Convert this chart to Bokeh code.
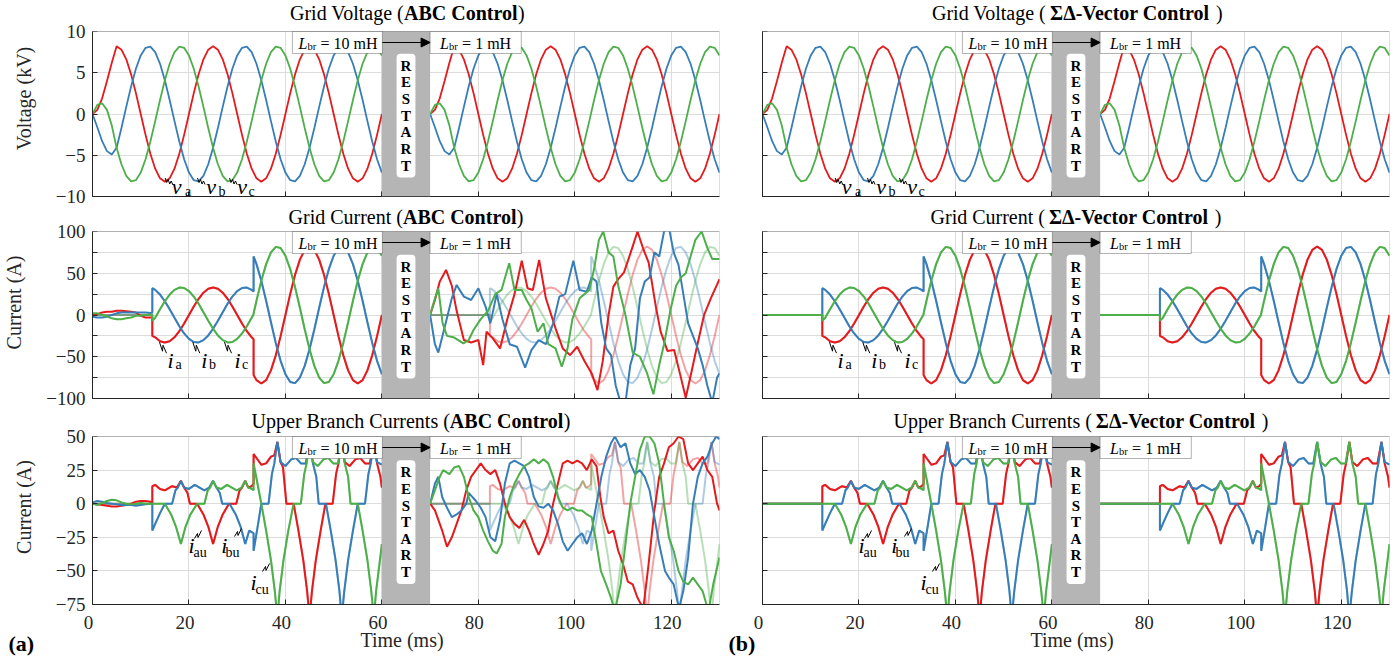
from bokeh.plotting import figure
from bokeh.models import Range1d, FixedTicker, BoxAnnotation, Label, Arrow, NormalHead
from bokeh.layouts import row, column
from bokeh.embed import file_html
from bokeh.resources import INLINE

FONT = "Liberation Serif"
RED, BLUE, GREEN = "#e41a1c", "#377eb8", "#4daf4a"
INK = "#262626"
FW = 627
X_MAX = 130
SHIFT = 70  # second run starts 70 ms after the first

# ---------------- grid voltage (kV), one run 0..60 ms, 1 ms samples ----------------
t_v = [0, 1, 2, 3, 4, 5, 6, 7, 8, 9, 10, 11, 12, 13, 14, 15, 16, 17, 18, 19,
       20, 21, 22, 23, 24, 25, 26, 27, 28, 29, 30, 31, 32, 33, 34, 35, 36, 37, 38, 39,
       40, 41, 42, 43, 44, 45, 46, 47, 48, 49, 50, 51, 52, 53, 54, 55, 56, 57, 58, 59, 60]
va = [0, 0.5, 1.9, 4.0, 6.2,
      8.2, 7.8, 6.63, 4.82, 2.53, 0, -2.53, -4.82, -6.63, -7.8, -8.2, -7.8, -6.63, -4.82, -2.53,
      0, 2.53, 4.82, 6.63, 7.8, 8.2, 7.8, 6.63, 4.82, 2.53, 0, -2.53, -4.82, -6.63, -7.8, -8.2, -7.8, -6.63, -4.82, -2.53,
      0, 2.53, 4.82, 6.63, 7.8, 8.2, 7.8, 6.63, 4.82, 2.53, 0, -2.53, -4.82, -6.63, -7.8, -8.2, -7.8, -6.63, -4.82, -2.53,
      0]
vb = [0, -1.6, -3.3, -4.5, -4.9,
      -4.1, -1.7, 0.86, 3.34, 5.49, 7.1, 8.02, 8.16, 7.49, 6.09, 4.1, 1.7, -0.86, -3.34, -5.49,
      -7.1, -8.02, -8.16, -7.49, -6.09, -4.1, -1.7, 0.86, 3.34, 5.49, 7.1, 8.02, 8.16, 7.49, 6.09, 4.1, 1.7, -0.86, -3.34, -5.49,
      -7.1, -8.02, -8.16, -7.49, -6.09, -4.1, -1.7, 0.86, 3.34, 5.49, 7.1, 8.02, 8.16, 7.49, 6.09, 4.1, 1.7, -0.86, -3.34, -5.49,
      -7.1]
vc = [0, 1.1, 1.3, 0.5, -1.4,
      -4.1, -6.09, -7.49, -8.16, -8.02, -7.1, -5.49, -3.34, -0.86, 1.7, 4.1, 6.09, 7.49, 8.16, 8.02,
      7.1, 5.49, 3.34, 0.86, -1.7, -4.1, -6.09, -7.49, -8.16, -8.02, -7.1, -5.49, -3.34, -0.86, 1.7, 4.1, 6.09, 7.49, 8.16, 8.02,
      7.1, 5.49, 3.34, 0.86, -1.7, -4.1, -6.09, -7.49, -8.16, -8.02, -7.1, -5.49, -3.34, -0.86, 1.7, 4.1, 6.09, 7.49, 8.16, 8.02,
      7.1]

# ---------------- grid current reference (A), one run 0..60 ms ----------------
t_i = [0, 12.4, 12.4, 13, 14, 15, 16, 17, 18, 19, 20, 21, 22, 23, 24, 25, 26, 27, 28, 29, 30, 31, 32, 33,
       33.4, 33.4, 34, 35, 36, 37, 38, 39, 40, 41, 42, 43, 44, 45, 46, 47, 48, 49, 50,
       51, 52, 53, 54, 55, 56, 57, 58, 59, 60]
ia_ref = [0, 0, -25, -26.7, -31.4, -33, -31.4, -26.7, -19.4, -10.2, 0, 10.2, 19.4, 26.7, 31.4, 33, 31.4, 26.7,
          19.4, 10.2, 0, -10.2, -19.4, -26.7, -28.9, -71.8, -78.0, -82, -78.0, -66.3, -48.2, -25.3, 0, 25.3,
          48.2, 66.3, 78.0, 82, 78.0, 66.3, 48.2, 25.3, 0, -25.3, -48.2, -66.3, -78.0, -82, -78.0, -66.3, -48.2,
          -25.3, 0]
ib_ref = [0, 0, 32.1, 30.1, 24.5, 16.5, 6.9, -3.4, -13.4, -22.1, -28.6, -32.3, -32.8, -30.1, -24.5, -16.5,
          -6.9, 3.4, 13.4, 22.1, 28.6, 32.3, 32.8, 30.1, 28.2, 70.1, 60.9, 41, 17.1, -8.6, -33.4, -54.9, -71.0,
          -80.2, -81.6, -74.9, -60.9, -41, -17.1, 8.6, 33.4, 54.9, 71.0, 80.2, 81.6, 74.9, 60.9, 41, 17.1, -8.6,
          -33.4, -54.9, -71.0]
ic_ref = [0, 0, -7, -3.4, 6.9, 16.5, 24.5, 30.1, 32.8, 32.3, 28.6, 22.1, 13.4, 3.4, -6.9, -16.5, -24.5, -30.1,
          -32.8, -32.3, -28.6, -22.1, -13.4, -3.4, 0.7, 1.7, 17.1, 41, 60.9, 74.9, 81.6, 80.2, 71.0, 54.9, 33.4,
          8.6, -17.1, -41, -60.9, -74.9, -81.6, -80.2, -71.0, -54.9, -33.4, -8.6, 17.1, 41, 60.9, 74.9, 81.6,
          80.2, 71.0]

# ABC control: measured current before enabling (0..12.4 ms)
t_i_pre = [0, 1, 2, 3, 4, 5, 6, 7, 8, 9, 10, 11, 12, 12.4]
ia_pre = [0, 1, 3, 4, 4, 5, 5, 4.5, 4, 3, -1, -3, -3, -3]
ib_pre = [-2, -3, -3, -2, 0, 2, 3, 3, 3, 3, 3, 3, 2.5, 3]
ic_pre = [2, 2, 0, -2, -4, -5, -5, -4, -3, -1, -1, 0, 0.5, 0]

# ABC control: measured current after the restart (70..130 ms)
t_ia2 = [70, 71, 72, 73.3, 74.5, 75.5, 77, 78.5, 80, 81, 81.7, 83, 84.5, 86, 87.5, 89, 90.2, 91.3, 92.6, 94,
         96, 97.5, 99, 100.5, 102, 103.5, 104.7, 105.8, 107, 108, 109, 110.2, 111.6, 113, 114.2, 115.3, 116.8,
         117.8, 119.2, 120.6, 122, 123, 124.2, 125.4, 126.8, 128.2, 130]
ia2 = [0, 18, 40, 54, 35, 5, -30, -33, -30, -60, -20, -28, -40, -5, 25, 65, 32, 30, 66, 20,
       -16, -40, -48, -38, -55, -70, -90, -55, 0, 34, 43, 51, 75, 100, 79, 63, 10,
       -20, -43, -42, -75, -99, -68, -36, 0, 20, 43]
t_ib2 = [70, 71, 71.7, 73, 74.5, 75.5, 77, 78.5, 80, 81.5, 82.5, 83.8, 85, 86.5, 88, 89.7, 91, 92.5, 94, 95.5,
         96.8, 98, 99.7, 101, 102.5, 103.5, 104.5, 105.5, 106.5, 107.5, 108.5, 109.5, 110.5, 111.5, 112.5,
         113.5, 114.5, 115.5, 116.5, 117.5, 118.5, 119.5, 120.5, 121.5, 122.5, 123.5, 124.5, 125.5, 126.5,
         127.5, 128.5, 129.5, 130]
ib2 = [0, -35, -45, -15, 20, 36, 22, 18, 32, 10, -10, 25, -5, -35, -38, -63, -42, -30, -35, -10,
       22, 25, 65, 30, 28, 45, 40, -10, -40, -48, -85, -105, -105, -60, -40,
       20, 40, 45, 75, 70, 100, 105, 75, 60, 25, -10, -25, -40, -60,
       -85, -105, -75, -70]
t_ic2 = [70, 71, 71.7, 72.6, 73.5, 75, 76.9, 78, 79, 80.5, 82, 83.5, 84.8, 86.4, 87.5, 89, 90, 91, 92.3, 93.5,
         94.5, 96, 97.3, 98.5, 99.5, 101, 102, 103, 104, 105, 105.9, 107, 108, 109, 110.5, 112, 113.5, 115,
         116.3, 117.5, 118.5, 119.8, 121, 122, 123, 124, 125, 126.3, 127.5, 128.5, 130]
ic2 = [0, 20, 32, -10, -25, -27, -34, -30, -18, -5, 5, 25, 30, 62, 30, 30, 18, 8, -20, -10,
       -35, -40, -62, -40, -5, 20, 25, 30, 55, 90, 100, 75, 70, 35, 0, -45, -50, -70,
       -95, -60, -35, 5, 35, 45, 50, 70, 90, 100, 80, 67, 67]

# ---------------- upper branch current reference (A), one run 0..60 ms ----------------
t_au = [0, 12.4, 12.4, 13.0, 14.0, 15.0, 16.5, 17.5, 18.33, 19.0, 19.7, 20.2, 21.7, 23.0, 24.0, 25.0, 26.0,
        27.0, 28.3, 29.8, 30.5, 31.0, 31.67, 32.3, 33.0, 33.4, 33.4, 34.0, 35.0, 36.0, 37.0, 37.7, 38.33, 39.0,
        39.5, 40.2, 41.7, 42.7, 43.7, 44.5, 45.0, 45.5, 46.3, 47.3, 48.3, 49.8, 50.5, 51.0, 51.67, 52.3, 53.3,
        54.5, 55.5, 56.5, 57.5, 58.33, 59.0, 59.7, 60.0]
iau_ref = [0, 0, 13, 14, 11, 10, 13, 12, 17, 12, 8, 0, 0, -8, -17, -30, -17, -8, 0, 0, 10, 12, 17, 12, 13, 15,
           37, 34, 29, 30, 35, 36, 46, 31, 27, 0, 0, -20, -42, -65, -85, -65, -42, -20, 0, 0, 22, 30, 46, 31,
           28, 33, 34, 30, 30, 46, 30, 20, 12]
t_bu = [0, 12.4, 12.4, 13.0, 14.0, 15.0, 16.5, 17.2, 17.7, 18.33, 19.0, 20.0, 21.2, 22.2, 23.2, 24.2, 25.0,
        25.7, 26.4, 26.9, 28.4, 29.7, 30.7, 31.67, 32.5, 33.4, 33.4, 34.2, 35.0, 36.5, 37.2, 37.7, 38.33, 39.0,
        40.0, 41.2, 42.2, 43.2, 44.2, 45.0, 45.7, 46.4, 46.9, 48.4, 49.4, 50.4, 51.2, 51.67, 52.2, 53.0, 54.0,
        55.0, 56.5, 57.2, 57.7, 58.33, 59.0, 60.0]
ibu_ref = [0, 0, -20, -15, -7, 0, 0, 10, 12, 17, 12, 11, 14, 12, 10, 12, 17, 12, 8, 0, 0, -8, -17, -30, -20,
           -22, -35, -18, 0, 0, 22, 30, 46, 31, 28, 33, 34, 30, 30, 46, 30, 20, 0, 0, -20, -42, -65, -85, -65,
           -42, -20, 0, 0, 22, 30, 46, 31, 29]
t_cu = [0, 12.4, 15.0, 16.3, 17.3, 18.33, 19.3, 20.3, 21.7, 23.2, 23.9, 24.4, 25.0, 25.7, 26.7, 27.9, 28.9,
        29.9, 30.9, 31.67, 32.3, 33.0, 33.4, 33.4, 34.2, 35.0, 36.0, 37.0, 37.8, 38.33, 38.8, 39.6, 40.6, 41.7,
        43.2, 43.9, 44.4, 45.0, 45.7, 46.7, 47.9, 48.9, 49.9, 50.9, 51.67, 52.3, 53.0, 53.5, 55.0, 56.0, 57.0,
        57.8, 58.33, 58.8, 59.6, 60.0]
icu_ref = [0, 0, 0, -8, -17, -30, -17, -8, 0, 0, 10, 12, 17, 12, 11, 14, 12, 10, 12, 17, 12, 11, 10, 30, 15,
           0, -20, -42, -65, -85, -65, -42, -20, 0, 0, 22, 30, 46, 31, 28, 33, 34, 30, 30, 46, 30, 20, 0, 0,
           -20, -42, -65, -85, -65, -42, -30]

# ABC control: measured branch currents before enabling (0..12.4 ms)
t_b_pre = [0, 1, 2, 3, 4, 5, 6, 7, 8, 9, 10, 11, 12, 12.4]
iau_pre = [0, -0.5, -1, -1.5, -2, -2, -1.5, -1, 0, 1.5, 2, 2, 1.5, 0]
ibu_pre = [1, 2, 1.5, 0.5, 0, -0.5, -1, -1, -1, -1.5, -1, -0.5, 0, 0]
icu_pre = [0, -1, 0.5, 2, 3, 2.5, 1, 0, -0.5, 0, 0.5, 0, 0, 0]

# ABC control: measured branch currents after the restart (70..130 ms)
t_au2 = [70, 71, 72.5, 73.5, 74.5, 75.5, 76.5, 77.5, 78.5, 79.5, 80.5, 81.5, 82.5, 83.5, 84.5, 85.5, 86.5,
         87.5, 88.5, 89.5, 90.5, 91.5, 92.5, 93.5, 94.5, 95.5, 96.5, 97.5, 98.5, 99.5, 100.5, 101.5, 102.5,
         103.5, 104.5, 105.3, 106, 107, 108, 109, 110, 111, 112, 113, 114.2, 115.3, 116.5, 117.5, 118.5,
         119.5, 120.5, 121.5, 122.5, 123.5, 124.5, 125.5, 126.5, 127.5, 128.5, 129.5, 130]
iau2 = [0, -5, -20, -32, -25, -15, -5, 10, 20, 25, 30, 25, 22, 25, 15, 0, -10, -15, -18, -12, -20, -30, -38,
        -30, -20, 0, 15, 30, 32, 30, 32, 30, 25, 33, 28, 5, -10, -22, -20, -35, -45, -58, -60, -70, -78, -45,
        -5, 20, 30, 42, 45, 50, 48, 30, 25, 30, 35, 25, 20, 0, -5]
t_bu2 = [70, 71, 71.7, 72.5, 73.5, 74.5, 75.5, 76.5, 77.5, 78, 79.5, 80.5, 81.5, 82.5, 83.5, 84.5, 85.5, 86.5,
         87.5, 88.5, 89.5, 90.5, 91.5, 92.5, 93.5, 94.5, 95.5, 96.5, 97.5, 98.5, 99.5, 100.5, 101.5, 102.5,
         103.5, 104.5, 105.5, 106.5, 107.5, 108.3, 109.5, 110.5, 111.5, 112.5, 113.5, 114.5, 115.5, 116.5,
         117.5, 118.7, 119.5, 120.5, 121.6, 122.5, 123.5, 124.5, 125.5, 126.5, 127.5, 128.5, 129.3, 130]
ibu2 = [0, 15, 20, 5, -3, -10, -8, -5, 0, 8, 2, -3, -10, -25, -28, -12, 15, 30, 32, 30, 28, 20, 5, -2, -3, 0,
        -5, -15, -28, -35, -30, -25, -22, -30, -20, 0, 20, 35, 45, 50, 42, 45, 30, 22, 25, 20, 10, -10, -30,
        -50, -55, -60, -78, -65, -40, 0, 20, 30, 35, 45, 50, 48]
t_cu2 = [70, 71, 72, 72.7, 74, 75, 76, 77, 78, 79, 80, 81, 82, 83, 83.8, 84.8, 85.5, 86.5, 87.5, 88.5, 89.5,
         90.5, 91.5, 92.5, 93.5, 94.5, 95.5, 96.5, 97.5, 98.5, 99.5, 100.5, 101.5, 102.5, 103.5, 104.5, 105.4,
         106.5, 107.5, 108.3, 109.5, 110.5, 111.5, 112.5, 113.5, 114.5, 115.5, 116.5, 117.5, 118.5, 119.5,
         120.5, 121.5, 122.5, 123.5, 124.5, 125.5, 126.5, 127.7, 128.7, 130]
icu2 = [0, 10, 20, 25, 22, 27, 28, 20, 5, -5, -10, -20, -28, -35, -37, -30, -10, 5, 15, 22, 28, 30, 33, 30,
        33, 30, 20, 5, -3, -5, -3, -5, -5, -8, -10, -30, -50, -60, -70, -80, -60, -30, 0, 20, 40, 50, 50, 45,
        30, 0, -25, -35, -50, -58, -60, -55, -60, -65, -80, -60, -40]

x_ticks = [0, 20, 40, 60, 80, 100, 120]
x_tick_labels = ["0", "20", "40", "60", "80", "100", "120"]
restart_window = (60, 70)

# panel geometry: data region height, title zone above it, border below
ROWS = [
    dict(yr=(-10, 10), ticks=[-10, -5, 0, 5, 10], hide=[], ylabel="Voltage (kV)", data_h=165, top_pad=31,
         bottom=10, title="Grid Voltage (", tbase=12),
    dict(yr=(-100, 100), ticks=[-100, -75, -50, -25, 0, 25, 50, 75, 100], hide=[-75, -25, 25, 75],
         ylabel="Current (A)", data_h=167, top_pad=25, bottom=11, title="Grid Current (", tbase=10),
    dict(yr=(-75, 50), ticks=[-75, -50, -25, 0, 25, 50], hide=[], ylabel="Current (A)", data_h=168, top_pad=27,
         bottom=7, title="Upper Branch Currents (", tbase=11),
]
BOLD = ["ABC Control", "\u03a3\u0394-Vector Control"]
WID = {"Grid Voltage (": 5.832, "Grid Current (": 5.721, "Upper Branch Currents (": 10.412,
       "ABC Control": 5.694, "\u03a3\u0394-Vector Control": 8.093, ")": 0.333}
BORDERS = [(88, 5), (38, 11)]


def sh(t, s):
    return [x + s for x in t]


def txt(p, x, y, text, size, style="normal", align="left", baseline="alphabetic", xu="data", yu="data",
        xo=0, yo=0, color="black", **kw):
    p.add_layout(Label(x=x, y=y, x_units=xu, y_units=yu, x_offset=xo, y_offset=yo, text=text,
                       text_font=FONT, text_font_size=f"{size}px", text_font_style=style, text_align=align,
                       text_baseline=baseline, text_color=color, **kw))


def make_fig(side, r):
    cfg = ROWS[r]
    lb, rb = BORDERS[side]
    y0, y1 = cfg["yr"]
    span = y1 - y0
    y_ext = y1 + cfg["top_pad"] * span / cfg["data_h"]
    p = figure(frame_width=FW, frame_height=cfg["data_h"] + cfg["top_pad"], min_border_left=lb,
               min_border_right=rb, min_border_top=0, min_border_bottom=cfg["bottom"],
               x_range=Range1d(0, X_MAX), y_range=Range1d(y0, y_ext),
               output_backend="svg", toolbar_location=None)
    p.outline_line_color = None
    xt = FixedTicker(ticks=x_ticks)
    yt = FixedTicker(ticks=cfg["ticks"])
    p.xaxis.ticker = xt
    p.xgrid.ticker = xt
    p.yaxis.ticker = yt
    p.ygrid.ticker = yt
    p.yaxis.bounds = (y0, y1)
    p.grid.grid_line_color = "#dcdcdc"
    p.grid.grid_line_width = 1
    for ax in p.axis:
        ax.axis_line_color = INK
        ax.major_tick_line_color = INK
        ax.major_tick_in = 5
        ax.major_tick_out = 0
        ax.minor_tick_line_color = None
        ax.major_label_text_font = FONT
        ax.major_label_text_font_size = "19px"
        ax.major_label_text_color = INK
        ax.axis_label_text_font = FONT
        ax.axis_label_text_font_style = "normal"
        ax.axis_label_text_font_size = "20px"
        ax.axis_label_text_color = INK
    if side == 0:
        p.yaxis.axis_label = cfg["ylabel"]
        p.yaxis.axis_label_standoff = 18
        p.yaxis.major_label_standoff = 7
        if cfg["hide"]:
            p.yaxis.major_label_overrides = {h: "" for h in cfg["hide"]}
    else:
        p.yaxis.major_label_text_font_size = "0px"
        p.yaxis.major_label_standoff = 0
    p.xaxis.major_label_text_font_size = "0px"
    p.xaxis.major_label_standoff = 0
    return p


def add_lines(p, traces, alpha=1.0, width=2.0):
    for (t, y), c in zip(traces, (RED, BLUE, GREEN)):
        p.line(t, y, line_color=c, line_alpha=alpha, line_width=width)


def decorate(p, side, r):
    cfg = ROWS[r]
    y0, y1 = cfg["yr"]
    dh = cfg["data_h"]
    fh = dh + cfg["top_pad"]
    span = y1 - y0
    # white title zone above the data region (hides grid and clipped traces)
    p.add_layout(BoxAnnotation(bottom=y1, fill_color="white", fill_alpha=1, line_color=None))
    # restart band
    p.add_layout(BoxAnnotation(left=restart_window[0], right=restart_window[1], bottom=y0, top=y1,
                               fill_color="#b5b5b5", fill_alpha=1, line_color=None))
    # axes box
    p.add_layout(BoxAnnotation(left=0, right=X_MAX, bottom=y0, top=y1, fill_color=None, fill_alpha=0,
                               line_color=INK, line_width=1))
    # L_br boxes
    ybot = y1 - 22 / dh * span
    for (l, rr, val, off) in [(41.45, 60.1, "= 10 mH", 6), (70.0, 88.9, "= 1 mH", 10)]:
        p.add_layout(BoxAnnotation(left=l, right=rr, top=y1, bottom=ybot, fill_color="white", fill_alpha=1,
                                   line_color="black", line_width=1))
        txt(p, l, dh - 12, "L", 16, "italic", yu="screen", xo=off)
        txt(p, l, dh - 15, "br", 10.5, yu="screen", xo=off + 9)
        txt(p, l, dh - 12, val, 16, yu="screen", xo=off + 22)
    ym = (y1 + ybot) / 2
    p.add_layout(Arrow(end=NormalHead(size=9, fill_color="black", line_color="black"), x_start=60.1, y_start=ym,
                       x_end=70, y_end=ym, line_color="black", line_width=1))
    p.add_layout(Label(x=65, y=(y0 + y1) / 2 - 0.01 * span, text="R\nE\nS\nT\nA\nR\nT", text_align="center",
                       text_baseline="middle", text_font=FONT, text_font_size="15px", text_font_style="bold",
                       text_color="black", background_fill_color="white", border_radius=4, padding=4,
                       text_line_height=1.04))
    # title: regular part, bold part, closing parenthesis
    ts = 20
    reg, bold = cfg["title"], BOLD[side]
    gap = 4 if side == 1 else 0
    w1, w2, w3 = WID[reg] * ts, WID[bold] * ts, WID[")"] * ts
    tot = w1 + gap + w2 + gap + w3
    xb = -tot / 2 + w1 + gap
    yt = fh - cfg["tbase"]
    txt(p, 65, yt, reg, ts, align="right", yu="screen", xo=xb - gap)
    txt(p, 65, yt, bold, ts, "bold", yu="screen", xo=xb)
    txt(p, 65, yt, ")", ts, yu="screen", xo=xb + w2 + gap)

    def to_d(px, py):
        return px / FW * X_MAX, y1 - py / dh * span

    if r == 0:
        main = "v"
        items = [("a", 79.3, 155, 92.5, 160, 72.7, 146.5), ("b", 113.7, 155, 126, 160, 105, 146.5),
                 ("c", 144.7, 155, 156, 160, 137, 146.5)]
        squig = [(0, 0), (1.5, 4.5), (3, 1.5), (4.5, 6), (6, 3), (7.5, 6.5)]
    elif r == 1:
        main = "i"
        items = [("a", 75, 129, 83, 133, 67, 110.7), ("b", 108.7, 129, 116.5, 133, 100.3, 110.7),
                 ("c", 142, 129, 149.5, 133, 132, 110.7)]
        squig = [(0, 0), (3, 9), (3.5, 3), (7, 11)]
    else:
        main = "i"
        items = [("au", 96, 109, 101, 116, 102, 94), ("bu", 128.7, 109, 133, 116, 142, 92),
                 ("cu", 158, 146, 163, 153, 170, 127)]
        squig = [(0, 8), (3, 3), (3.5, 7), (7, 0)]
    for sub, mx, my, sx, sy, qx, qy in items:
        x, y = to_d(mx, my)
        txt(p, x, y, main, 22, "italic")
        x, y = to_d(sx, sy)
        txt(p, x, y, sub, 14)
        pts = [to_d(qx + a, qy + b) for a, b in squig]
        p.line([a for a, b in pts], [b for a, b in pts], line_color="black", line_width=1)


figs = {}
for side in (0, 1):
    for r in (0, 1, 2):
        figs[(side, r)] = make_fig(side, r)

# voltages (identical for both controls and both runs)
for side in (0, 1):
    p = figs[(side, 0)]
    add_lines(p, [(t_v, va), (t_v, vb), (t_v, vc)], width=1.8)
    add_lines(p, [(sh(t_v, SHIFT), va), (sh(t_v, SHIFT), vb), (sh(t_v, SHIFT), vc)], width=1.8)

# grid currents
ref_i = [(t_i, ia_ref), (t_i, ib_ref), (t_i, ic_ref)]
ref_i2 = [(sh(t, SHIFT), y) for t, y in ref_i]
p = figs[(1, 1)]
add_lines(p, ref_i, alpha=0.4)
add_lines(p, ref_i2, alpha=0.4)
add_lines(p, ref_i)
add_lines(p, ref_i2)
p = figs[(0, 1)]
add_lines(p, ref_i, alpha=0.4)
add_lines(p, ref_i2, alpha=0.4)
add_lines(p, [(t_i_pre + t_i[2:], ia_pre + ia_ref[2:]), (t_i_pre + t_i[2:], ib_pre + ib_ref[2:]),
              (t_i_pre + t_i[2:], ic_pre + ic_ref[2:])])
add_lines(p, [(t_ia2, ia2), (t_ib2, ib2), (t_ic2, ic2)])

# branch currents
ref_b = [(t_au, iau_ref), (t_bu, ibu_ref), (t_cu, icu_ref)]
ref_b2 = [(sh(t, SHIFT), y) for t, y in ref_b]
p = figs[(1, 2)]
add_lines(p, ref_b, alpha=0.4)
add_lines(p, ref_b2, alpha=0.4)
add_lines(p, ref_b)
add_lines(p, ref_b2)
p = figs[(0, 2)]
add_lines(p, ref_b, alpha=0.4)
add_lines(p, ref_b2, alpha=0.4)
add_lines(p, [(t_b_pre + t_au[2:], iau_pre + iau_ref[2:]), (t_b_pre + t_bu[2:], ibu_pre + ibu_ref[2:]),
              (t_b_pre + t_cu[1:], icu_pre + icu_ref[1:])])
add_lines(p, [(t_au2, iau2), (t_bu2, ibu2), (t_cu2, icu2)])

for (side, r), p in figs.items():
    decorate(p, side, r)

# bottom strip (full width): time tick labels, axis titles, panel letters
SW = 1396
SH = 656 - sum(ROWS[k]["data_h"] + ROWS[k]["top_pad"] + ROWS[k]["bottom"] for k in range(3))
strip = figure(width=SW, height=SH, x_range=Range1d(0, SW), y_range=Range1d(0, SH), min_border=0,
               x_axis_location=None, y_axis_location=None, toolbar_location=None, output_backend="svg")
strip.grid.visible = False
strip.outline_line_color = None
frame_left = [BORDERS[0][0], sum(BORDERS[0]) + FW + BORDERS[1][0]]
for fl in frame_left:
    for tv, tl in zip(x_ticks, x_tick_labels):
        txt(strip, fl + tv * FW / X_MAX, 656 - 621.5, tl, 19, align="center", baseline="middle", color=INK)
    txt(strip, fl + FW / 2, 17, "Time (ms)", 20, align="center", color=INK)
txt(strip, 8, 13, "(a)", 22, "bold")
txt(strip, 728, 13, "(b)", 22, "bold")

cols = [column(figs[(side, 0)], figs[(side, 1)], figs[(side, 2)]) for side in (0, 1)]
layout = column(row(*cols), strip)
open("out.html", "w").write(file_html(layout, INLINE))
